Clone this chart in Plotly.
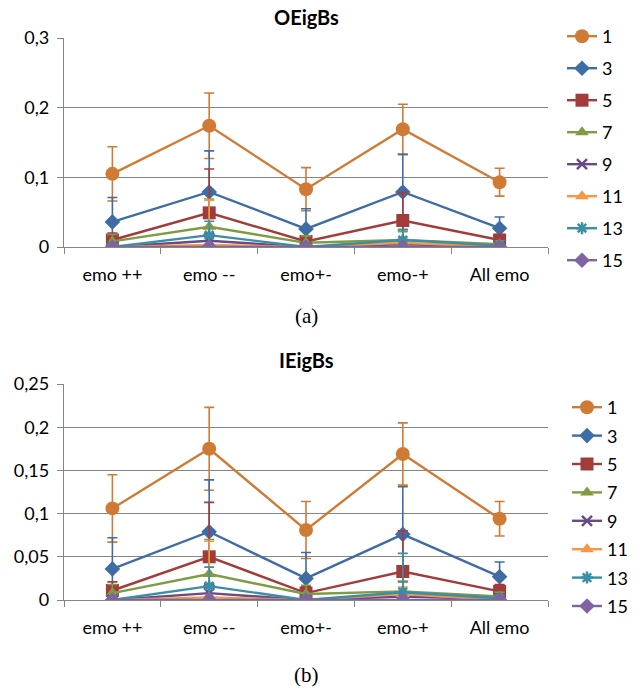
import plotly.graph_objects as go

categories = ["emo ++", "emo --", "emo+-", "emo-+", "All emo"]
series_names = ["1", "3", "5", "7", "9", "11", "13", "15"]

# OEigBs (a)
o1 = [0.105, 0.174, 0.083, 0.169, 0.093]
o3 = [0.036, 0.079, 0.026, 0.079, 0.027]
o5 = [0.010, 0.049, 0.008, 0.038, 0.010]
o7 = [0.008, 0.029, 0.006, 0.010, 0.004]
o9 = [0.000, 0.009, 0.000, 0.004, 0.001]
o11 = [0.000, 0.003, 0.000, 0.006, 0.000]
o13 = [0.000, 0.017, 0.000, 0.010, 0.002]
o15 = [0.000, 0.000, 0.000, 0.000, 0.000]
oe1 = [0.039, 0.047, 0.031, 0.036, 0.020]
oe3 = [0.035, 0.059, 0.029, 0.054, 0.016]
oe5 = [0.010, 0.063, 0.008, 0.040, 0.008]
oe7 = [0.010, 0.040, 0.010, 0.012, 0.005]
oe9 = [0.002, 0.010, 0.002, 0.005, 0.002]
oe11 = [0.002, 0.064, 0.002, 0.008, 0.002]
oe13 = [0.002, 0.020, 0.002, 0.015, 0.003]
oe15 = [0.000, 0.000, 0.000, 0.000, 0.000]

# IEigBs (b)
i1 = [0.106, 0.175, 0.081, 0.169, 0.094]
i3 = [0.036, 0.079, 0.025, 0.076, 0.027]
i5 = [0.011, 0.050, 0.008, 0.033, 0.010]
i7 = [0.008, 0.030, 0.007, 0.010, 0.004]
i9 = [0.000, 0.008, 0.000, 0.004, 0.001]
i11 = [0.000, 0.003, 0.000, 0.007, 0.000]
i13 = [0.000, 0.016, 0.000, 0.009, 0.002]
i15 = [0.000, 0.000, 0.000, 0.000, 0.000]
ie1 = [0.039, 0.048, 0.033, 0.036, 0.020]
ie3 = [0.036, 0.060, 0.030, 0.055, 0.017]
ie5 = [0.010, 0.063, 0.008, 0.047, 0.008]
ie7 = [0.010, 0.040, 0.010, 0.012, 0.005]
ie9 = [0.002, 0.010, 0.002, 0.005, 0.002]
ie11 = [0.002, 0.065, 0.002, 0.008, 0.002]
ie13 = [0.002, 0.022, 0.002, 0.045, 0.003]
ie15 = [0.000, 0.000, 0.000, 0.000, 0.000]

colors = ["#D07B35", "#3F6CA4", "#A23C3A", "#7F9B43", "#664B87", "#F79646", "#3A8FA7", "#8064A2"]
symbols = ["circle", "diamond", "square", "triangle-up", "x-thin", "triangle-up", "asterisk", "diamond"]
sizes = [14, 12, 13, 12, 10, 12, 10, 12]

top_vals = [o1, o3, o5, o7, o9, o11, o13, o15]
top_errs = [oe1, oe3, oe5, oe7, oe9, oe11, oe13, oe15]
bot_vals = [i1, i3, i5, i7, i9, i11, i13, i15]
bot_errs = [ie1, ie3, ie5, ie7, ie9, ie11, ie13, ie15]

FONT = "Lato, Open Sans, sans-serif"
fig = go.Figure()

def add_series(vals, errs, xa, ya, legend):
    for k in range(len(series_names)):
        thin = symbols[k] in ("x-thin", "asterisk")
        fig.add_trace(go.Scatter(
            x=categories, y=vals[k], name=series_names[k],
            mode="lines+markers", xaxis=xa, yaxis=ya, legend=legend,
            legendgroup=legend + series_names[k],
            line=dict(color=colors[k], width=2.4),
            marker=dict(symbol=symbols[k], size=sizes[k], color=colors[k],
                        line=dict(color=colors[k], width=2.5 if thin else 0)),
            error_y=dict(type="data", array=errs[k], visible=True,
                         color=colors[k], thickness=1.6, width=5),
        ))

add_series(top_vals, top_errs, "x", "y", "legend")
add_series(bot_vals, bot_errs, "x2", "y2", "legend2")

W, H = 640, 691
def py(p):
    return (H - p) / H

axis_common = dict(showline=True, linecolor="#868686", linewidth=1.3, automargin=False,
                   tickfont=dict(family=FONT, size=18, color="#000"))
xcommon = dict(axis_common, type="category", range=[-0.5, 4.5], tickson="boundaries",
               ticks="outside", ticklen=6, tickcolor="#868686", showgrid=False,
               ticklabelstandoff=11, domain=[64 / W, 548 / W])
ycommon = dict(axis_common, showgrid=True, gridcolor="#868686", gridwidth=1.3, zeroline=False,
               ticks="outside", ticklen=6, tickcolor="#868686", ticklabelstandoff=4)
fig.update_layout(
    template="none",
    width=W, height=H, margin=dict(l=0, r=0, t=0, b=0, pad=0, autoexpand=False),
    paper_bgcolor="white", plot_bgcolor="white",
    separators=", ",
    showlegend=True,
    xaxis=dict(xcommon, anchor="y"),
    xaxis2=dict(xcommon, anchor="y2"),
    yaxis=dict(ycommon, range=[0, 0.3], dtick=0.1, domain=[py(247), py(38)], anchor="x"),
    yaxis2=dict(ycommon, range=[0, 0.25], dtick=0.05, domain=[py(600), py(384)], anchor="x2"),
    legend=dict(x=562 / W, y=py(18), xanchor="left", yanchor="top",
                font=dict(family=FONT, size=18, color="#000"),
                traceorder="grouped", tracegroupgap=5.6, bgcolor="rgba(0,0,0,0)"),
    legend2=dict(x=567 / W, y=py(389), xanchor="left", yanchor="top",
                 font=dict(family=FONT, size=18, color="#000"),
                 traceorder="grouped", tracegroupgap=2, bgcolor="rgba(0,0,0,0)"),
    annotations=[
        dict(text="<b>OEigBs</b>", x=306 / W, y=py(17), xref="paper", yref="paper",
             xanchor="center", yanchor="middle",
             showarrow=False, font=dict(family=FONT, size=20, color="#000")),
        dict(text="<b>IEigBs</b>", x=306 / W, y=py(360), xref="paper", yref="paper",
             xanchor="center", yanchor="middle",
             showarrow=False, font=dict(family=FONT, size=20, color="#000")),
        dict(text="(a)", x=306 / W, y=py(316), xref="paper", yref="paper",
             xanchor="center", yanchor="middle",
             showarrow=False, font=dict(family="Liberation Serif, serif", size=21, color="#000")),
        dict(text="(b)", x=306 / W, y=py(675), xref="paper", yref="paper",
             xanchor="center", yanchor="middle",
             showarrow=False, font=dict(family="Liberation Serif, serif", size=21, color="#000")),
    ],
)

fig.write_html("out.html", config={"displayModeBar": False},
               post_script="document.body.style.margin='0';")
